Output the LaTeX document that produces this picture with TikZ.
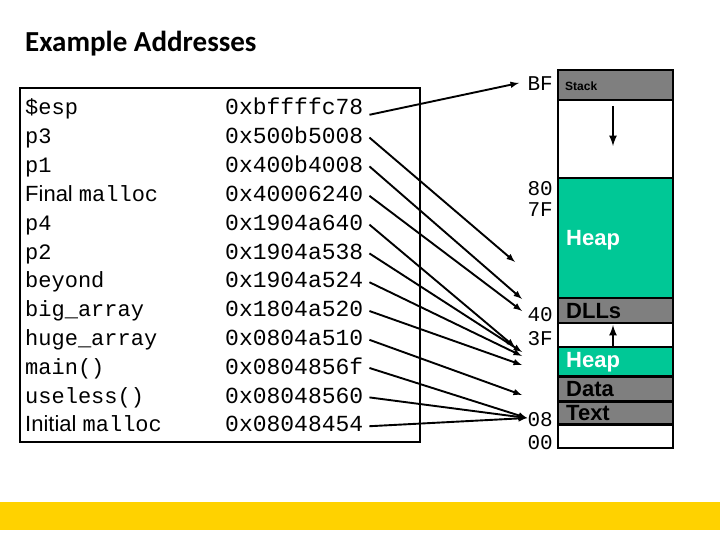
\documentclass[tikz,border=0pt]{standalone}
\usepackage{fontspec}
\setmainfont{Liberation Sans}
\newfontfamily\mono{Liberation Mono}
\newfontfamily\ttl{Carlito}
\definecolor{hgreen}{RGB}{0,200,150}
\definecolor{mgray}{RGB}{127,127,127}
\definecolor{barcol}{RGB}{255,210,0}
\begin{document}
\begin{tikzpicture}[x=1pt,y=-1pt,
  lbl/.style={anchor=base west,inner sep=0pt,font=\fontsize{22}{22}\selectfont},
  adr/.style={anchor=base west,inner sep=0pt,font=\mono\fontsize{23}{23}\selectfont},
  mk/.style={anchor=base east,inner sep=0pt,font=\mono\fontsize{21}{21}\selectfont},
  seg/.style={draw=black,line width=1.8pt},
  sl/.style={anchor=west,inner sep=0pt,font=\bfseries\fontsize{22}{22}\selectfont},
  ar/.style={-latex,line width=1.9pt}]
\useasboundingbox (0,0) rectangle (720,540);
\fill[white] (0,0) rectangle (720,540);
\fill[barcol] (0,502) rectangle (720,530);
\node[anchor=base west,inner sep=0pt,font=\ttl\bfseries\fontsize{29}{29}\selectfont] (title) at (25,52) {Example Addresses};
\draw[line width=1.3pt] (20,88) rectangle (420,442);
\foreach \n/\l/\a [count=\i from 0] in {
  a/{\mono\$esp}/0xbffffc78, b/{\mono p3}/0x500b5008, c/{\mono p1}/0x400b4008,
  d/{Final \mono malloc}/0x40006240, e/{\mono p4}/0x1904a640, f/{\mono p2}/0x1904a538,
  g/{\mono beyond}/0x1904a524, h/{\mono big\_array}/0x1804a520, i/{\mono huge\_array}/0x0804a510,
  j/{\mono main()}/0x0804856f, k/{\mono useless()}/0x08048560, l/{Initial \mono malloc}/0x08048454}{
  \node[lbl] (l\n) at (25,{115+28.8*\i}) {\l};
  \node[adr] (v\n) at (225,{115+28.8*\i}) {\a};
}
% memory column
\draw[seg,fill=mgray] (558,70) rectangle (673,100);
\draw[seg,fill=white] (558,100) rectangle (673,178);
\draw[seg,fill=hgreen] (558,178) rectangle (673,298);
\draw[seg,fill=mgray] (558,298) rectangle (673,323);
\draw[seg,fill=white] (558,323) rectangle (673,347);
\draw[seg,fill=hgreen] (558,347) rectangle (673,376);
\draw[seg,fill=mgray] (558,377) rectangle (673,401);
\draw[seg,fill=mgray] (558,402) rectangle (673,424);
\draw[seg,fill=white] (558,425) rectangle (673,448);
\node[anchor=west,inner sep=0pt,font=\bfseries\fontsize{12}{12}\selectfont] (stk) at (565,86) {Stack};
\node[sl,text=white] (hp1) at (566,240) {Heap};
\node[sl] (dll) at (566,311) {DLLs};
\node[sl,text=white] (hp2) at (566,362) {Heap};
\node[sl] (dat) at (566,389) {Data};
\node[sl] (txt) at (566,413) {Text};
\coordinate (s1) at (613,106); \coordinate (s2) at (613,146);
\draw[-latex,line width=2.5pt] (s1) -- (s2);
\coordinate (u1) at (613,346); \coordinate (u2) at (613,325);
\draw[-latex,line width=2.5pt] (u1) -- (u2);
% marks
\node[mk] (mBF) at (553,91) {BF};
\node[mk] (m80) at (553,196) {80};
\node[mk] (m7F) at (553,216) {7F};
\node[mk] (m40) at (553,321) {40};
\node[mk] (m3F) at (553,345) {3F};
\node[mk] (m08) at (553,426) {08};
\node[mk] (m00) at (553,449) {00};
% arrow ends
\coordinate (ea) at (519,83);
\coordinate (eb) at (515,262);
\coordinate (ec) at (522,299);
\coordinate (ed) at (522,311);
\coordinate (ee) at (515,347);
\coordinate (ef) at (522,352);
\coordinate (eg) at (522,356);
\coordinate (eh) at (522,365);
\coordinate (ei) at (522,395);
\coordinate (ej) at (527,418);
\foreach \n in {b,c,d,e,f,g,h,i}{\draw[ar] ([xshift=6pt,yshift=-2pt]v\n.east) -- (e\n);}
\draw[ar] ([xshift=6pt,yshift=-8pt]va.east) -- (ea);
\foreach \n in {j,k,l}{\draw[ar] ([xshift=6pt,yshift=-2pt]v\n.east) -- (ej);}
\end{tikzpicture}
\end{document}
